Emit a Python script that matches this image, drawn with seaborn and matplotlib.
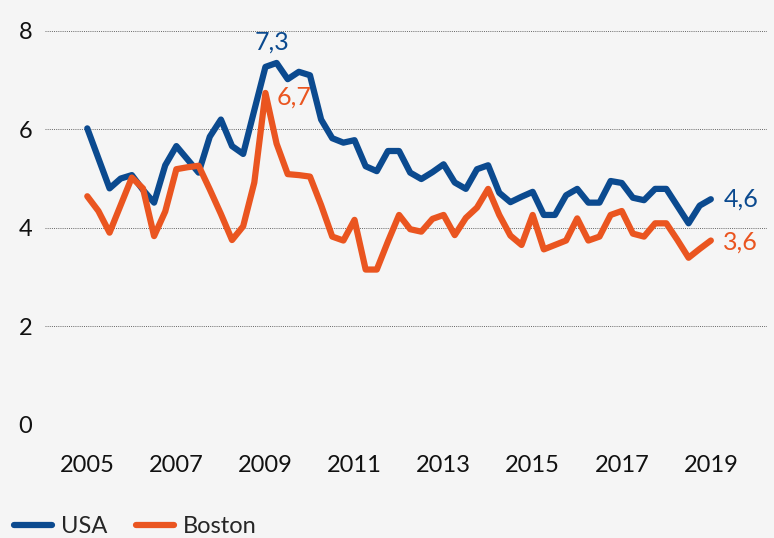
import numpy as np
import pandas as pd
import matplotlib
matplotlib.use("Agg")
import matplotlib.pyplot as plt
import seaborn as sns

# quarterly values, 2005 Q1 .. 2019 Q1
usa = [6.02, 5.41, 4.80, 5.00, 5.07, 4.77, 4.51, 5.27, 5.66, 5.39, 5.12, 5.85,
       6.20, 5.66, 5.50, 6.39, 7.27, 7.35, 7.02, 7.17, 7.10, 6.20, 5.82, 5.73,
       5.78, 5.25, 5.15, 5.56, 5.56, 5.12, 4.99, 5.13, 5.29, 4.92, 4.79, 5.19,
       5.27, 4.71, 4.52, 4.63, 4.73, 4.26, 4.26, 4.66, 4.79, 4.51, 4.51, 4.95,
       4.91, 4.61, 4.56, 4.79, 4.79, 4.44, 4.09, 4.45, 4.58]
boston = [4.64, 4.34, 3.90, 4.46, 5.02, 4.80, 3.83, 4.33, 5.19, 5.23, 5.26, 4.78,
          4.28, 3.75, 4.03, 4.92, 6.74, 5.71, 5.09, 5.07, 5.04, 4.46, 3.82, 3.74,
          4.16, 3.15, 3.15, 3.72, 4.26, 3.97, 3.92, 4.18, 4.26, 3.85, 4.20, 4.41,
          4.79, 4.26, 3.84, 3.65, 4.26, 3.56, 3.65, 3.74, 4.19, 3.74, 3.82, 4.26,
          4.34, 3.88, 3.82, 4.09, 4.09, 3.75, 3.39, 3.57, 3.74]
quarters = np.arange(len(usa)) * 0.25 + 2005
year_ticks = [2005, 2007, 2009, 2011, 2013, 2015, 2017, 2019]
y_ticks = [0, 2, 4, 6, 8]

blue = "#0b4a8f"
orange = "#ea5520"
bg = "#f5f5f5"

df = pd.DataFrame({"Quarter": quarters, "USA": usa, "Boston": boston})

sns.set_style("white")
plt.rcParams["font.family"] = ["Lato", "DejaVu Sans"]

fig = plt.figure(figsize=(7.74, 5.38), dpi=100, facecolor=bg)
ax = fig.add_axes([0.0581, 0.2110, 0.9328, 0.7314], facecolor=bg)

sns.lineplot(data=df, x="Quarter", y="USA", color=blue, lw=1.9, ax=ax, label="USA")
sns.lineplot(data=df, x="Quarter", y="Boston", color=orange, lw=1.9, ax=ax, label="Boston")

ax.set_xlim(2004.05, 2020.26)
ax.set_ylim(0, 8)
ax.set_xticks(year_ticks)
ax.set_yticks(y_ticks)
ax.set_xlabel("")
ax.set_ylabel("")
ax.grid(axis="y", linestyle=(0, (1, 1.2)), color="#666666", lw=0.7)
ax.grid(axis="x", visible=False)
for s in ax.spines.values():
    s.set_visible(False)
ax.tick_params(axis="x", length=0, pad=22, labelsize=17, labelcolor="#111111")
ax.tick_params(axis="y", length=0, pad=9, labelsize=17, labelcolor="#111111")

# value labels
i_peak = int(np.argmax(usa))
ax.annotate("7,3", (quarters[i_peak], usa[i_peak]), xytext=(-3, 7),
            textcoords="offset points", ha="center", va="bottom",
            color=blue, fontsize=18)
j_peak = int(np.argmax(boston))
ax.annotate("6,7", (quarters[j_peak], boston[j_peak]), xytext=(8, -3),
            textcoords="offset points", ha="left", va="center",
            color=orange, fontsize=18)
ax.annotate("4,6", (quarters[-1], usa[-1]), xytext=(9, 0),
            textcoords="offset points", ha="left", va="center",
            color=blue, fontsize=18)
ax.annotate("3,6", (quarters[-1], boston[-1]), xytext=(9, -1),
            textcoords="offset points", ha="left", va="center",
            color=orange, fontsize=18)

ax.legend_.remove()
handles, labels = ax.get_legend_handles_labels()
for h in handles:
    h.set_linewidth(4.5)
fig.legend(handles, labels, loc="lower left", bbox_to_anchor=(0.0, -0.025),
           ncol=2, frameon=False, fontsize=17, handlelength=1.6,
           handletextpad=0.4, columnspacing=1.2, borderaxespad=0.2)

fig.savefig("out.png", dpi=100, facecolor=bg)
